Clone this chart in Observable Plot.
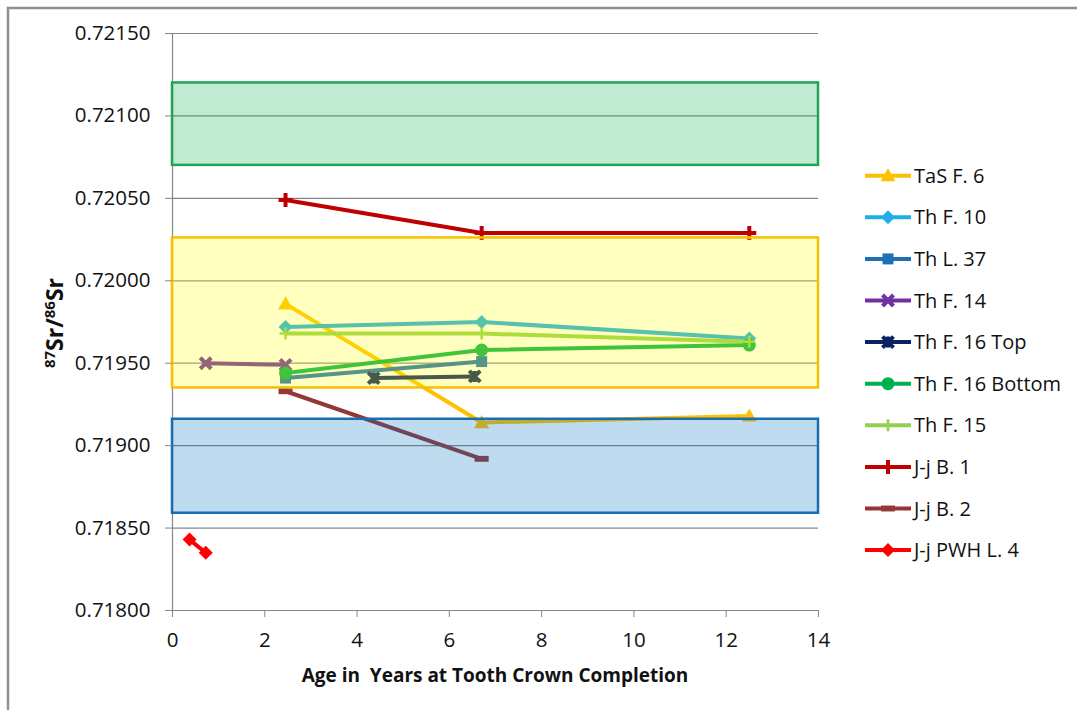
<!DOCTYPE html>
<html>
<head>
<meta charset="utf-8">
<script src="https://cdn.jsdelivr.net/npm/d3@7"></script>
<script src="https://cdn.jsdelivr.net/npm/@observablehq/plot@0.6"></script>
<style>
  html, body { margin: 0; padding: 0; background: #fff; }
  #chart svg { display: block; }
</style>
</head>
<body>
<div id="chart"></div>
<script>
// ---------- DATA ----------
const xDomain = [0, 14];
const yDomain = [0.718, 0.7215];
const xTicks = [0, 2, 4, 6, 8, 10, 12, 14];
const yTicks = [0.718, 0.7185, 0.719, 0.7195, 0.72, 0.7205, 0.721, 0.7215];

const seriesNames = ["TaS F. 6", "Th F. 10", "Th L. 37", "Th F. 14", "Th F. 16 Top",
  "Th F. 16 Bottom", "Th F. 15", "J-j B. 1", "J-j B. 2", "J-j PWH L. 4"];

// [age in years, 87Sr/86Sr]
const tasF6        = [[2.45, 0.71986], [6.7, 0.71914], [12.5, 0.71918]];
const thF10        = [[2.45, 0.71972], [6.7, 0.71975], [12.5, 0.71965]];
const thL37        = [[2.45, 0.71941], [6.7, 0.71951]];
const thF14        = [[0.72, 0.71950], [2.45, 0.71949]];
const thF16Top     = [[4.36, 0.71941], [6.55, 0.71942]];
const thF16Bottom  = [[2.45, 0.71944], [6.7, 0.71958], [12.5, 0.71961]];
const thF15        = [[2.45, 0.71968], [6.7, 0.71968], [12.5, 0.71963]];
const jjB1         = [[2.45, 0.72049], [6.7, 0.72029], [12.5, 0.72029]];
const jjB2         = [[2.45, 0.71933], [6.7, 0.71892]];
const jjPWHL4      = [[0.37, 0.71843], [0.72, 0.71835]];
const seriesData = [tasF6, thF10, thL37, thF14, thF16Top, thF16Bottom, thF15, jjB1, jjB2, jjPWHL4];

// reference bands (low, high)
const bandLow  = [0.72070, 0.71935, 0.71859];
const bandHigh = [0.72120, 0.72026, 0.71916];

// ---------- STYLES ----------
const seriesColors = ["#FFC000", "#1FAEE5", "#1F6FB5", "#7030A0", "#0A2260",
  "#00B050", "#92D050", "#C00000", "#953735", "#FF0000"];
const bandFill   = ["#00B050", "#FFFF00", "#0070C0"];
const bandStroke = ["#1FA555", "#F5C000", "#1A6DB0"];

// custom symbols (half extent = sqrt(size/PI) = r)
const half = s => Math.sqrt(s / Math.PI);
const symTimes = { draw(c, s) { const h = half(s); c.moveTo(-h, -h); c.lineTo(h, h); c.moveTo(-h, h); c.lineTo(h, -h); } };
const symStar  = { draw(c, s) { const h = half(s); c.moveTo(-h, -h); c.lineTo(h, h); c.moveTo(-h, h); c.lineTo(h, -h); c.moveTo(0, -h); c.lineTo(0, h); } };
const symPlus  = { draw(c, s) { const h = half(s); c.moveTo(-h, 0); c.lineTo(h, 0); c.moveTo(0, -h); c.lineTo(0, h); } };
const symDash  = { draw(c, s) { const h = half(s); c.rect(-h, -h * 0.42, 2 * h, h * 0.84); } };
const symTri   = { draw(c, s) { const h = half(s); c.moveTo(0, -h); c.lineTo(h, h * 0.75); c.lineTo(-h, h * 0.75); c.closePath(); } };
const symDia   = { draw(c, s) { const h = half(s); c.moveTo(0, -h); c.lineTo(h, 0); c.lineTo(0, h); c.lineTo(-h, 0); c.closePath(); } };
const symSq    = { draw(c, s) { const h = half(s); c.rect(-h, -h, 2 * h, 2 * h); } };
const symCirc  = { draw(c, s) { const h = half(s); c.moveTo(h, 0); c.arc(0, 0, h, 0, 2 * Math.PI); } };

// symbol, radius, filled?, stroke width
const markerStyle = [
  [symTri, 7.5, true, 0], [symDia, 7, true, 0], [symSq, 5.5, true, 0], [symTimes, 5.5, false, 4],
  [symStar, 5.5, false, 4], [symCirc, 6.5, true, 0], [symPlus, 6, false, 2.5], [symPlus, 7, false, 4],
  [symDash, 7, true, 0], [symDia, 7, true, 0]
];

// ---------- BUILD ----------
const rows = seriesNames.flatMap((name, i) => seriesData[i].map(([age, ratio]) => ({ name, age, ratio })));
const bands = bandLow.map((low, i) => ({ low, high: bandHigh[i], i }));

const lineMarks = seriesNames.map((name, i) =>
  Plot.line(rows.filter(d => d.name === name), { x: "age", y: "ratio", stroke: seriesColors[i], strokeWidth: 4, strokeLinejoin: "round" }));
const dotMarks = seriesNames.map((name, i) => {
  const [sym, r, filled, sw] = markerStyle[i];
  return Plot.dot(rows.filter(d => d.name === name), {
    x: "age", y: "ratio", symbol: sym, r,
    fill: filled ? seriesColors[i] : "none",
    stroke: filled ? "none" : seriesColors[i],
    strokeWidth: sw, strokeOpacity: 1, fillOpacity: 1
  });
});
const bandFillMarks = bands.map(b => Plot.rect([b], { x1: xDomain[0], x2: xDomain[1], y1: "low", y2: "high", fill: bandFill[b.i], fillOpacity: 0.25 }));
const bandStrokeMarks = bands.map(b => Plot.rect([b], { x1: xDomain[0], x2: xDomain[1], y1: "low", y2: "high", fill: "none", stroke: bandStroke[b.i], strokeWidth: 2.5 }));

const svg = Plot.plot({
  width: 1077, height: 710,
  marginLeft: 172, marginRight: 259, marginTop: 33, marginBottom: 100,
  style: { fontFamily: "'Open Sans', sans-serif", fontSize: "20.5px", background: "#fff", color: "#000" },
  x: { domain: xDomain },
  y: { domain: yDomain },
  marks: [
    Plot.gridY(yTicks, { stroke: "#868686", strokeOpacity: 1, strokeWidth: 1.2 }),
    Plot.ruleX([xDomain[0]], { stroke: "#868686", strokeWidth: 1.2 }),
    ...lineMarks,
    ...dotMarks,
    ...bandFillMarks,
    ...bandStrokeMarks,
    Plot.axisX(xTicks, { tickSize: 7, tickPadding: 15, stroke: "#868686", fill: "#111", label: null }),
    Plot.axisY(yTicks, { tickSize: 7, tickPadding: 15, tickFormat: d3.format(".5f"), stroke: "#868686", fill: "#111", label: null })
  ]
});
document.getElementById("chart").appendChild(svg);

// ---------- DECORATION: frame, titles, legend ----------
const s = d3.select(svg);
s.append("path").attr("d", "M8,710V8H1077").attr("fill", "none").attr("stroke", "#8f8f8f").attr("stroke-width", 2.5);

s.append("text")
  .attr("x", 495).attr("y", 682)
  .attr("text-anchor", "middle")
  .attr("font-weight", "bold").attr("font-size", 19)
  .attr("fill", "#111")
  .style("white-space", "pre")
  .text("Age in  Years at Tooth Crown Completion");

const yt = s.append("text")
  .attr("transform", "translate(63,323) rotate(-90)")
  .attr("text-anchor", "middle")
  .attr("font-weight", "bold").attr("font-size", 23)
  .attr("fill", "#111");
yt.append("tspan").attr("font-size", 15).attr("dy", -8).text("87");
yt.append("tspan").attr("dy", 8).text("Sr/");
yt.append("tspan").attr("font-size", 15).attr("dy", -8).text("86");
yt.append("tspan").attr("dy", 8).text("Sr");

const lg = s.append("g").attr("text-anchor", "start");
seriesNames.forEach((name, i) => {
  const y = 175.7 + i * 41.6;
  const g = lg.append("g").attr("transform", `translate(0,${y})`);
  g.append("line").attr("x1", 865).attr("x2", 911).attr("y1", 0).attr("y2", 0)
    .attr("stroke", seriesColors[i]).attr("stroke-width", 4);
  const [sym, r, filled, sw] = markerStyle[i];
  g.append("path").attr("transform", "translate(888,0)")
    .attr("d", d3.symbol().type(sym).size(Math.PI * r * r)())
    .attr("fill", filled ? seriesColors[i] : "none")
    .attr("stroke", filled ? "none" : seriesColors[i])
    .attr("stroke-width", sw);
  g.append("text").attr("x", 914).attr("y", 0).attr("dy", "0.35em")
    .attr("text-anchor", "start")
    .attr("font-size", 20).attr("fill", "#111").text(name);
});
</script>
</body>
</html>
